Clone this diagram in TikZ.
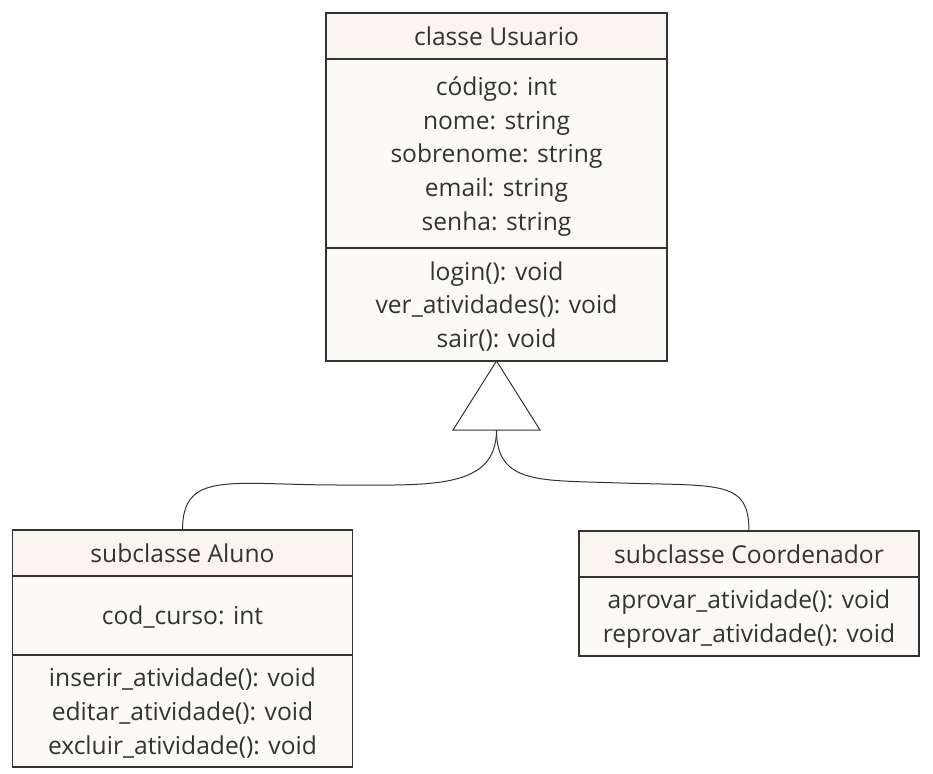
\documentclass[tikz,border=0pt]{standalone}
\usepackage{fontspec}
\setmainfont{Open Sans}
\usetikzlibrary{positioning}
\definecolor{headfill}{HTML}{FAF5EE}
\definecolor{bodyfill}{HTML}{FCFAF7}
\definecolor{linegray}{HTML}{333333}
\tikzset{
    every node/.style={rectangle, draw=linegray, line width=1.3pt, align=center, inner sep=0pt, outer sep=0pt,
        font=\fontsize{24.6}{33.8}\selectfont, text=black!80}
}
\tikzset{head/.style={fill=headfill, minimum height=46pt}}
\tikzset{body/.style={fill=bodyfill, text depth=0pt}}
\tikzset{link/.style={draw=linegray, line width=1pt}}

\begin{document}
\begin{tikzpicture}[x=1pt, y=-1pt]
    \useasboundingbox (0,0) rectangle (933,773);

    \node (usrHead) [head, minimum width=341pt, anchor=north] at (496.5,13) {classe Usuario};
    \node (usrAttr) [body, minimum width=341pt, minimum height=189pt, below=0pt of usrHead]
        {código: int\\nome: string\\sobrenome: string\\email: string\\senha: string};
    \node (usrMeth) [body, minimum width=341pt, minimum height=113pt, below=0pt of usrAttr]
        {login(): void\\ver\_atividades(): void\\sair(): void};

    \node (aluHead) [head, minimum width=340pt, anchor=north] at (182.5,530) {subclasse Aluno};
    \node (aluAttr) [body, minimum width=340pt, minimum height=79pt, below=0pt of aluHead] {cod\_curso: int};
    \node (aluMeth) [body, minimum width=340pt, minimum height=112pt, below=0pt of aluAttr]
        {inserir\_atividade(): void\\editar\_atividade(): void\\excluir\_atividade(): void};

    \node (corHead) [head, minimum width=340pt, anchor=north] at (749,531) {subclasse Coordenador};
    \node (corMeth) [body, minimum width=340pt, minimum height=79pt, below=0pt of corHead]
        {aprovar\_atividade(): void\\reprovar\_atividade(): void};

    % heranca
    \coordinate (triBase) at (496.5,430);
    \draw[link, fill=white] (usrMeth.south) -- (453,430) -- (540,430) -- cycle;
    \draw[link] (triBase) .. controls (496.5,490) and (430,485) .. (340,485)
        .. controls (230,485) and (182.5,470) .. (aluHead.north);
    \draw[link] (triBase) .. controls (496.5,485) and (540,480) .. (620,483)
        .. controls (720,486) and (749,480) .. (corHead.north);
\end{tikzpicture}
\end{document}
